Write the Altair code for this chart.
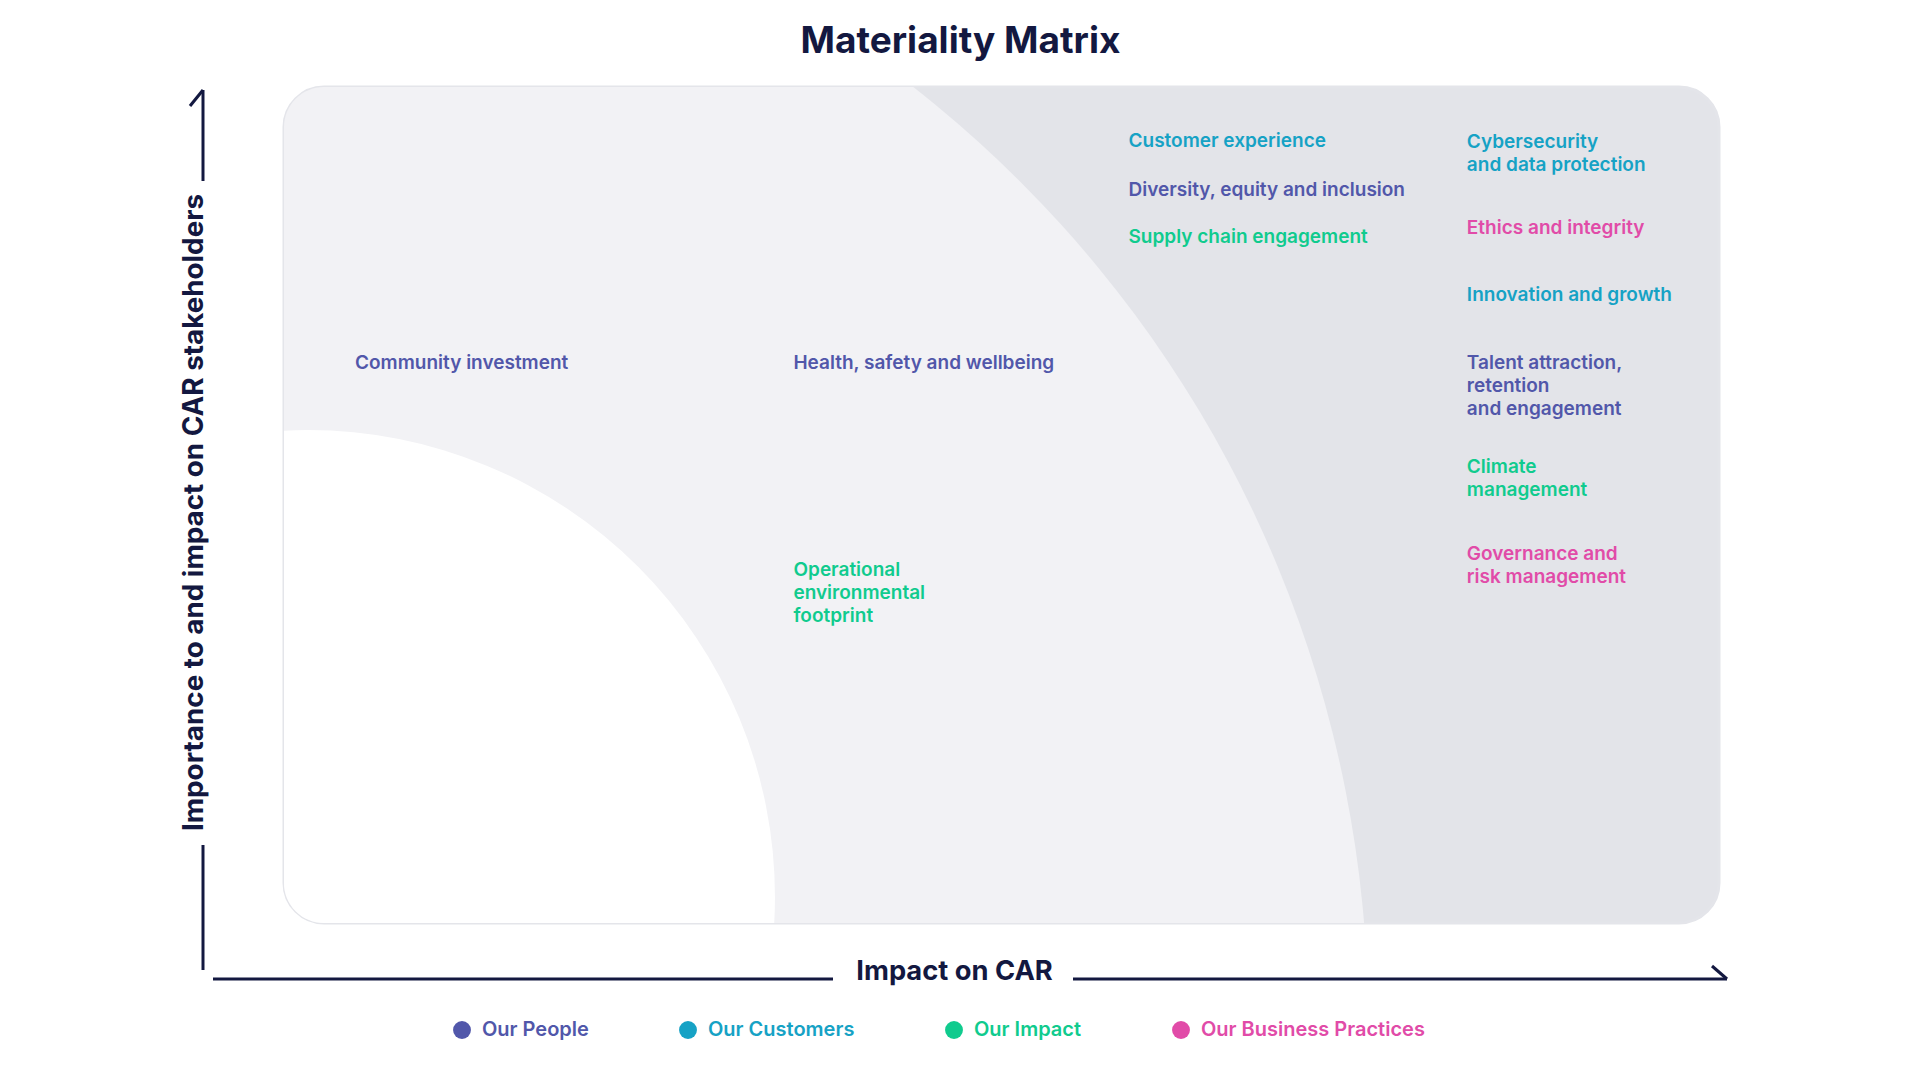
import altair as alt
import pandas as pd

# ---- data ----
topics = [
    "Customer experience", "Diversity, equity and inclusion", "Supply chain engagement",
    "Cybersecurity\nand data protection", "Ethics and integrity", "Innovation and growth",
    "Talent attraction,\nretention\nand engagement", "Climate\nmanagement",
    "Governance and\nrisk management", "Community investment",
    "Health, safety and wellbeing", "Operational\nenvironmental\nfootprint",
]
pillars = [
    "Our Customers", "Our People", "Our Impact",
    "Our Customers", "Our Business Practices", "Our Customers",
    "Our People", "Our Impact", "Our Business Practices",
    "Our People", "Our People", "Our Impact",
]
impact_on_car = [58.85, 58.85, 58.85, 82.43, 82.43, 82.43, 82.43, 82.43, 82.43, 4.95, 35.5, 35.5]
importance = [93.5, 87.7, 82.0, 93.45, 83.1, 75.15, 66.95, 54.5, 44.1, 66.95, 66.95, 42.2]

pillar_order = ["Our People", "Our Customers", "Our Impact", "Our Business Practices"]
pillar_colors = ["#5157AA", "#16A2C5", "#10CB8E", "#E14BA8"]

df = pd.DataFrame({"topic": topics, "pillar": pillars,
                   "impact": impact_on_car, "importance": importance})

NAVY = "#131840"
LIGHT = "#F2F2F5"
DARK = "#E3E4E9"
W, H = 1435, 836
FONT = "Inter"

xs = alt.Scale(domain=[0, 100], range=[0, W])
ys = alt.Scale(domain=[0, 100], range=[H, 0])

x_axis = alt.Axis(title="Impact on CAR", labels=False, ticks=False, domain=False,
                  grid=False, titleX=670, titleY=56, titleBaseline="alphabetic",
                  titleAlign="center", titleFont=FONT, titleFontSize=27.3,
                  titleFontWeight=700, titleColor=NAVY)
y_axis = alt.Axis(title="Importance to and impact on CAR stakeholders", labels=False,
                  ticks=False, domain=False, grid=False, titleAngle=270,
                  titleX=-81.5, titleY=425, titleBaseline="alphabetic",
                  titleAlign="center", titleFont=FONT, titleFontSize=27.8,
                  titleFontWeight=700, titleColor=NAVY)

# ---- concentric materiality zones (clipped to the rounded panel) ----
mid_zone = alt.Chart().mark_arc(
    clip=True, color=LIGHT, radius=1186, theta=0, theta2=6.2832
).encode(
    x=alt.X(datum=-7.1, scale=xs, axis=x_axis),
    y=alt.Y(datum=-11.7, scale=ys, axis=y_axis),
)
low_zone = alt.Chart().mark_arc(
    clip=True, color="#FFFFFF", radius=467, theta=0, theta2=6.2832
).encode(
    x=alt.X(datum=1.67, scale=xs, axis=x_axis),
    y=alt.Y(datum=3.1, scale=ys, axis=y_axis),
)

# ---- topic labels ----
labels = alt.Chart(df).mark_text(
    align="left", baseline="middle", font=FONT, fontSize=19, fontWeight=600,
    lineBreak="\n", lineHeight=23,
).encode(
    x=alt.X("impact:Q", scale=xs, axis=x_axis),
    y=alt.Y("importance:Q", scale=ys, axis=y_axis),
    text="topic:N",
    color=alt.Color(
        "pillar:N",
        scale=alt.Scale(domain=pillar_order, range=pillar_colors),
        legend=alt.Legend(
            title=None, orient="none", legendX=168, legendY=933, direction="horizontal",
            symbolType="circle", symbolSize=320, symbolStrokeWidth=0,
            labelFont=FONT, labelFontSize=20, labelFontWeight=600, labelLimit=500,
            labelColor=alt.ExprRef("scale('color', datum.value)"),
            labelOffset=10, columnPadding=89, padding=0,
        ),
    ),
)

# ---- hand-drawn axis arrows ----
rule_kw = dict(color=NAVY, strokeWidth=3)
v_top = alt.Chart().mark_rule(**rule_kw).encode(x=alt.value(-81), y=alt.value(3), y2=alt.value(94))
v_head = alt.Chart().mark_rule(**rule_kw).encode(x=alt.value(-81), x2=alt.value(-94),
                                                  y=alt.value(3), y2=alt.value(19))
v_bot = alt.Chart().mark_rule(**rule_kw).encode(x=alt.value(-81), y=alt.value(758), y2=alt.value(883))
h_left = alt.Chart().mark_rule(**rule_kw).encode(x=alt.value(-71), x2=alt.value(549), y=alt.value(892))
h_right = alt.Chart().mark_rule(**rule_kw).encode(x=alt.value(789), x2=alt.value(1443), y=alt.value(892))
h_head = alt.Chart().mark_rule(**rule_kw).encode(x=alt.value(1443), x2=alt.value(1428),
                                                  y=alt.value(892), y2=alt.value(879))

chart = alt.layer(
    mid_zone, low_zone, labels, v_top, v_head, v_bot, h_left, h_right, h_head
).properties(
    width=W, height=H,
    background="#FFFFFF",
    title=alt.Title("Materiality Matrix", anchor="middle", frame="group", dx=-41,
                    offset=26, font=FONT, fontSize=37, fontWeight=700, color=NAVY),
    autosize=alt.AutoSizeParams(type="none"),
    padding={"left": 276, "top": 79, "right": 189, "bottom": 145},
).configure_view(
    fill=DARK, stroke="#E4E5EA", strokeWidth=3, cornerRadius=40
)

chart.save("out.html", embed_options={"renderer": "svg", "actions": False})
